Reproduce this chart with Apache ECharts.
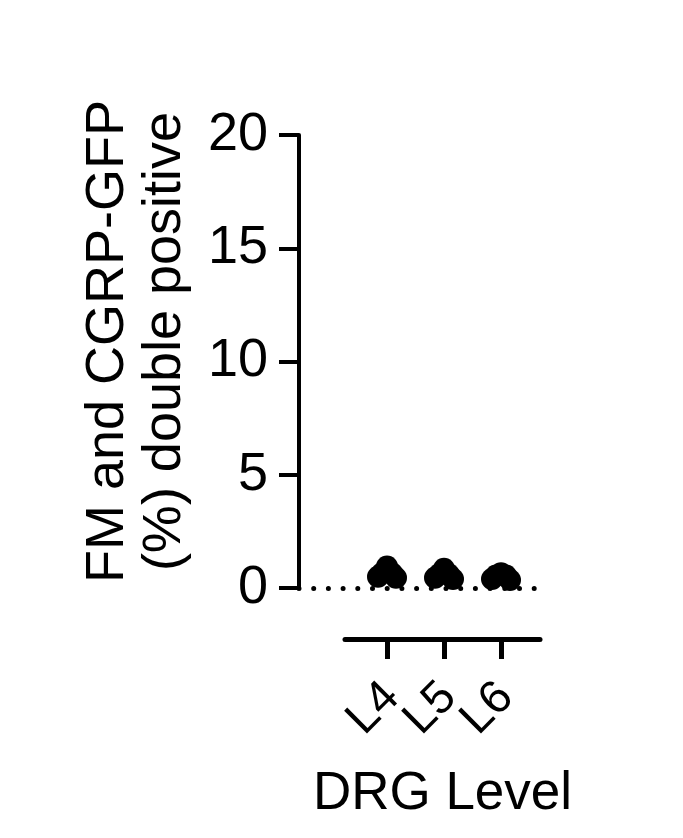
<!DOCTYPE html>
<html>
<head>
<meta charset="utf-8">
<script src="https://cdn.jsdelivr.net/npm/echarts@6/dist/echarts.min.js"></script>
<style>
html,body{margin:0;padding:0;background:#fff;}
#chart{width:683px;height:838px;}
</style>
</head>
<body>
<div id="chart"></div>
<script>
// ---- data ----
const categories = ['L4', 'L5', 'L6'];
const valuesL4 = [0.5, 0.65, 0.95, 0.65, 0.45];
const valuesL5 = [0.45, 0.6, 0.85, 0.6, 0.4];
const valuesL6 = [0.4, 0.55, 0.65, 0.55, 0.35];
const yTicks = [0, 5, 10, 15, 20];
const yAxisTitle = 'FM and CGRP-GFP\n(%) double positive';
const xAxisTitle = 'DRG Level';

// ---- style ----
const groups = [valuesL4, valuesL5, valuesL6];
const jitter = [-9, -5, 0, 5, 9];
const FONT = '"Liberation Sans", Arial, sans-serif';

const points = [];
groups.forEach((vals, i) => {
  vals.forEach((v, j) => {
    points.push({ value: [categories[i], v], symbolOffset: [jitter[j % jitter.length], 0] });
  });
});

const yMin = yTicks[0], yMax = yTicks[yTicks.length - 1];
const chart = echarts.init(document.getElementById('chart'), null, { renderer: 'canvas' });
chart.setOption({
  backgroundColor: '#ffffff',
  animation: false,
  grid: [
    { left: 299, right: 148, top: 135, bottom: 250 },   // y axis + dotted zero line
    { left: 358.5, right: 153.5, top: 135, bottom: 250 }, // categories, ticks, labels, points
    { left: 345, right: 143, top: 135, bottom: 250 }    // detached x axis line + title
  ],
  xAxis: [
    { gridIndex: 0, type: 'value', min: 0, max: 1, show: false },
    {
      gridIndex: 1, type: 'category', data: categories, boundaryGap: true,
      offset: 51,
      axisLine: { show: false, onZero: false },
      axisTick: { show: true, length: 20, alignWithLabel: true, interval: 0, lineStyle: { color: '#000', width: 5 } },
      axisLabel: {
        show: true, interval: 0, rotate: 45, margin: 56,
        color: '#000', fontSize: 47, fontFamily: FONT,
        padding: [0, -7, 0, 0]
      },
      splitLine: { show: false }
    },
    {
      gridIndex: 2, type: 'value', min: 0, max: 1,
      offset: 51,
      axisLine: { show: true, onZero: false, lineStyle: { color: '#000', width: 5 } },
      axisTick: { show: false },
      axisLabel: { show: false },
      splitLine: { show: false },
      name: xAxisTitle, nameLocation: 'middle', nameGap: 129,
      nameTextStyle: { color: '#000', fontSize: 53, fontFamily: FONT }
    }
  ],
  yAxis: [
    {
      gridIndex: 0, type: 'value', min: yMin, max: yMax, interval: 5,
      axisLine: { show: true, lineStyle: { color: '#000', width: 4 } },
      axisTick: { show: true, length: 20, lineStyle: { color: '#000', width: 4 } },
      axisLabel: { color: '#000', fontSize: 54, fontFamily: FONT, margin: 31 },
      splitLine: { show: false },
      name: yAxisTitle, nameLocation: 'middle', nameRotate: 90, nameGap: 105,
      nameTextStyle: { color: '#000', fontSize: 54, lineHeight: 57, fontFamily: FONT, align: 'center', padding: [0, 0, 0, 40] }
    },
    { gridIndex: 1, type: 'value', min: yMin, max: yMax, show: false },
    { gridIndex: 2, type: 'value', min: yMin, max: yMax, show: false }
  ],
  series: [
    {
      type: 'line', xAxisIndex: 0, yAxisIndex: 0, data: [],
      markLine: {
        silent: true, symbol: 'none', label: { show: false },
        lineStyle: { color: '#000', width: 5, type: [0, 14.7], cap: 'round', opacity: 1 },
        data: [{ yAxis: 0 }]
      }
    },
    {
      type: 'scatter', xAxisIndex: 1, yAxisIndex: 1,
      symbol: 'circle', symbolSize: 22,
      itemStyle: { color: '#000', opacity: 1 },
      data: points
    }
  ]
});
</script>
</body>
</html>
